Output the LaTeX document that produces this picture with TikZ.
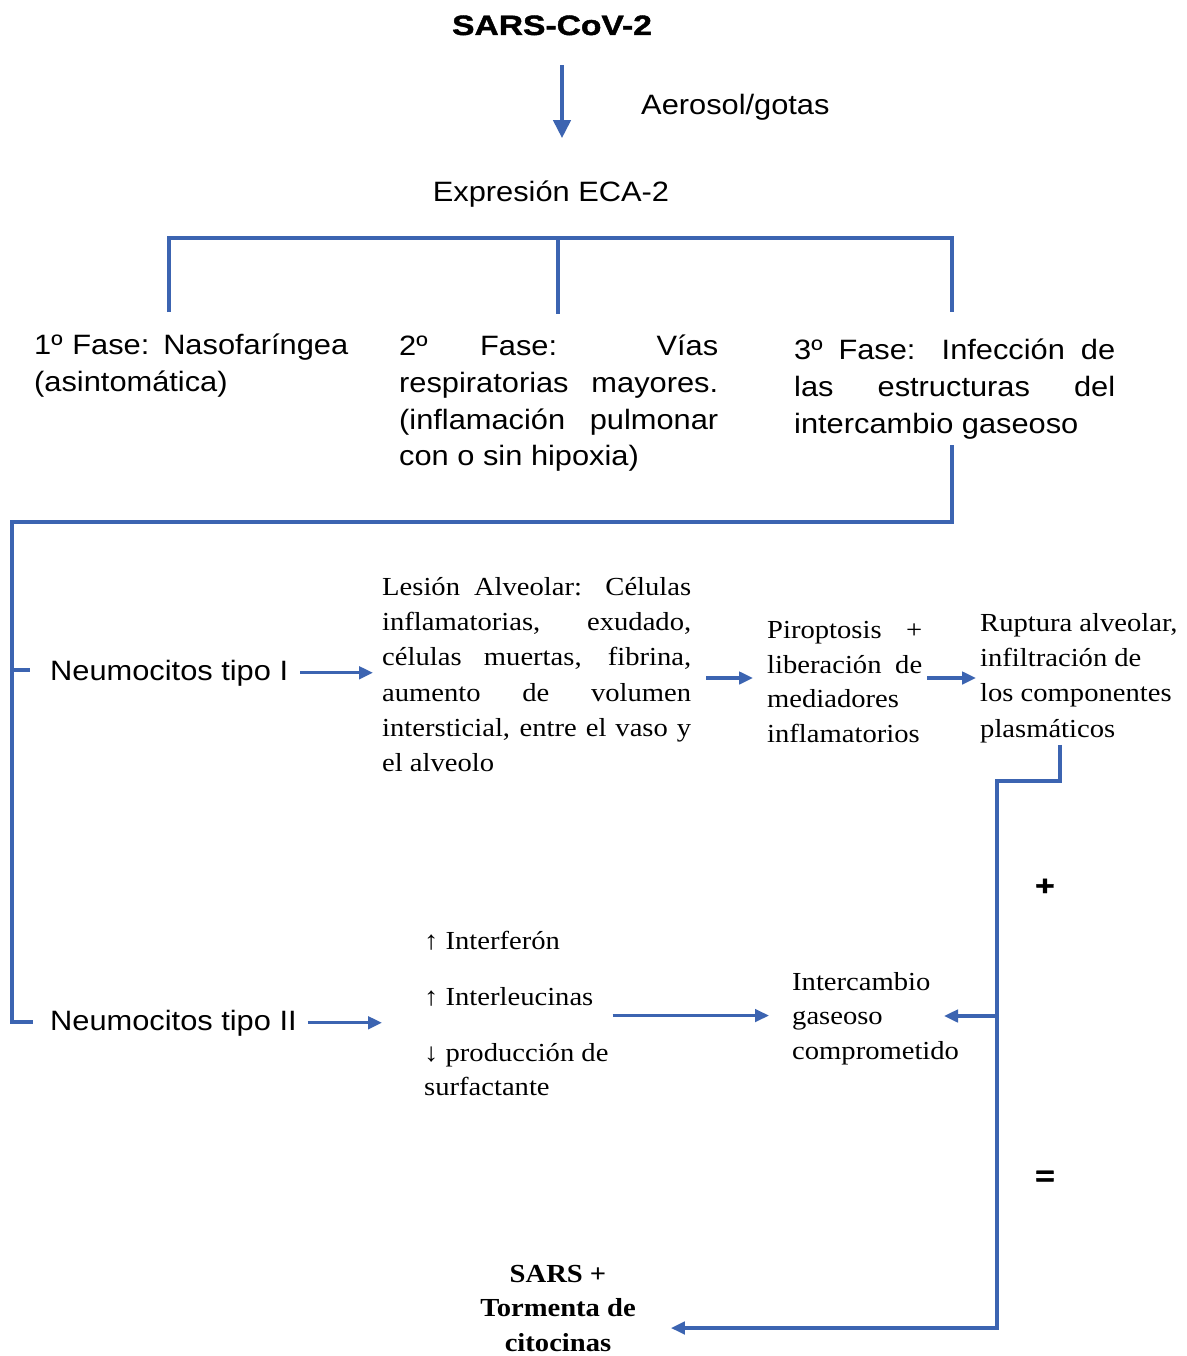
\documentclass[tikz,border=0pt]{standalone}
\usepackage{fontspec}
\setmainfont{Liberation Serif}[FakeStretch=1.1]
\newfontfamily\arialf{Liberation Sans}[FakeStretch=1.1]
\newfontfamily\sarsf{Liberation Sans}[FakeStretch=1.2,FakeBold=1.5]
\usetikzlibrary{arrows.meta}
\definecolor{lblue}{HTML}{3C64B1}
\newcommand\sansT{\arialf\fontsize{28}{36.8}\selectfont}
\newcommand\serT{\fontsize{26}{35.3}\selectfont}
\newcommand\serU{\fontsize{26}{34.6}\selectfont}
\newcommand\serV{\fontsize{26}{34.5}\selectfont}
\newcommand\jl[2]{\makebox[#1pt][s]{#2}}
\begin{document}
\begin{tikzpicture}[x=1pt,y=-1pt,
  ln/.style={draw=lblue,line width=3.1pt},
  arr/.style={ln,-{Triangle[length=14pt,width=12.5pt]}},
  bigarr/.style={draw=lblue,line width=4pt,-{Triangle[length=18pt,width=17pt]}},
  sans/.style={font=\sansT,inner sep=0pt,align=left},
  ser/.style={font=\serT,inner sep=0pt,align=left},
  serb/.style={font=\serU,inner sep=0pt,align=left},
  serc/.style={font=\serV,inner sep=0pt,align=left},
  sym/.style={font=\sarsf\bfseries\fontsize{28}{30}\selectfont,inner sep=0pt}
]
\useasboundingbox[fill=white] (0,0) rectangle (1186,1356);

% top
\node[sym,anchor=base] (sars) at (552,35) {SARS-CoV-2};
\node[sans,anchor=base west] (aer) at (641,115) {Aerosol/gotas};
\node[sans,anchor=base] (expr) at (551,202) {Expresión ECA-2};
\coordinate (ax) at (562,0);
\draw[bigarr,shorten <=30pt,shorten >=43pt] (sars.south -| ax) -- (expr.north -| ax);

% phases
\node[sans,anchor=north west] (ph1) at (34,328.6)
  {\strut\jl{314}{1º Fase: Nasofaríngea}\\(asintomática)};
\node[sans,anchor=north west] (ph2) at (399,329.6)
  {\strut\jl{319}{2º Fase: Vías}\\\jl{319}{respiratorias mayores.}\\\jl{319}{(inflamación pulmonar}\\con o sin hipoxia)};
\node[sans,anchor=north west] (ph3) at (794,333.6)
  {\strut\jl{321}{3º Fase: Infección de}\\\jl{321}{las estructuras del}\\intercambio gaseoso};

\coordinate (b1) at (169,238);
\coordinate (b2) at (558,238);
\coordinate (b3) at (952,238);
\coordinate (c1) at (169,312);
\coordinate (c2) at (558,314);
\coordinate (c3) at (952,312);
\draw[ln] (c1) -- (b1) -- (b3) -- (c3);
\draw[ln] (b2) -- (c2);

% phase 3 to pneumocytes
\coordinate (p3o) at (952,445);
\coordinate (p3a) at (952,522);
\coordinate (lft) at (12,522);
\coordinate (lfb) at (12,1022);
\coordinate (lfbt) at (33,1022);
\coordinate (lfm) at (12,670);
\coordinate (lfmt) at (30,670);
\draw[ln] (p3o) -- (p3a) -- (lft) -- (lfb) -- (lfbt);
\draw[ln] (lfm) -- (lfmt);

% type I row
\node[sans,anchor=base west] (neu1) at (50,680) {Neumocitos tipo I};
\node[ser,anchor=north west] (les) at (382,570.3)
  {\strut\jl{309}{Lesión Alveolar: Células}\\\jl{309}{inflamatorias, exudado,}\\\jl{309}{células muertas, fibrina,}\\\jl{309}{aumento de volumen}\\\jl{309}{intersticial, entre el vaso y}\\el alveolo\strut};
\node[serb,anchor=north west] (pir) at (767,614.2)
  {\strut\jl{155}{Piroptosis +}\\\jl{155}{liberación de}\\mediadores\\inflamatorios\strut};
\node[ser,anchor=north west] (rup) at (980,606.3)
  {\strut Ruptura alveolar,\\infiltración de\\los componentes\\plasmáticos};

\coordinate (ay) at (0,678);
\draw[arr,shorten <=12pt,shorten >=9pt] (neu1.east) -- (neu1.east -| les.west);
\draw[arr,shorten <=15pt,shorten >=14pt] (les.east |- ay) -- (pir.west |- ay);
\draw[arr,shorten <=5pt,shorten >=4pt] (pir.east |- ay) -- (rup.west |- ay);

% type II row
\node[sans,anchor=base west] (neu2) at (50,1030) {Neumocitos tipo II};
\node[serc,anchor=north west] (lst) at (424,924.85)
  {\strut↑ Interferón\\[21.5pt]↑ Interleucinas\\[21.5pt]↓ producción de\\surfactante\strut};
\node[serc,anchor=north west] (int) at (792,965.85)
  {\strut Intercambio\\gaseoso\\comprometido};
\draw[arr,shorten <=11pt,shorten >=42pt] (neu2.east) -- (neu2.east -| lst.west);
\draw[arr,shorten <=4pt,shorten >=23pt] (lst.east) -- (lst.east -| int.west);

% result
\node[font=\bfseries\serV,inner sep=0pt,align=center,anchor=north] (res) at (558,1257.85)
  {\strut SARS +\\Tormenta de\\citocinas};

\coordinate (e1) at (1060,781);
\coordinate (e2) at (997,781);
\coordinate (e3) at (997,1328);
\draw[arr,shorten >=35pt] ([yshift=-2pt]rup.south -| e1) -- (e1) -- (e2) -- (e3) -- (res.east |- e3);
\coordinate (j1) at (997,1016);
\coordinate (t1) at (944,1016);
\draw[arr] (j1) -- (t1);

\node[sym] (plus) at (1045,887) {+};
\node[sym] (eq) at (1045,1178) {=};
\end{tikzpicture}
\end{document}
